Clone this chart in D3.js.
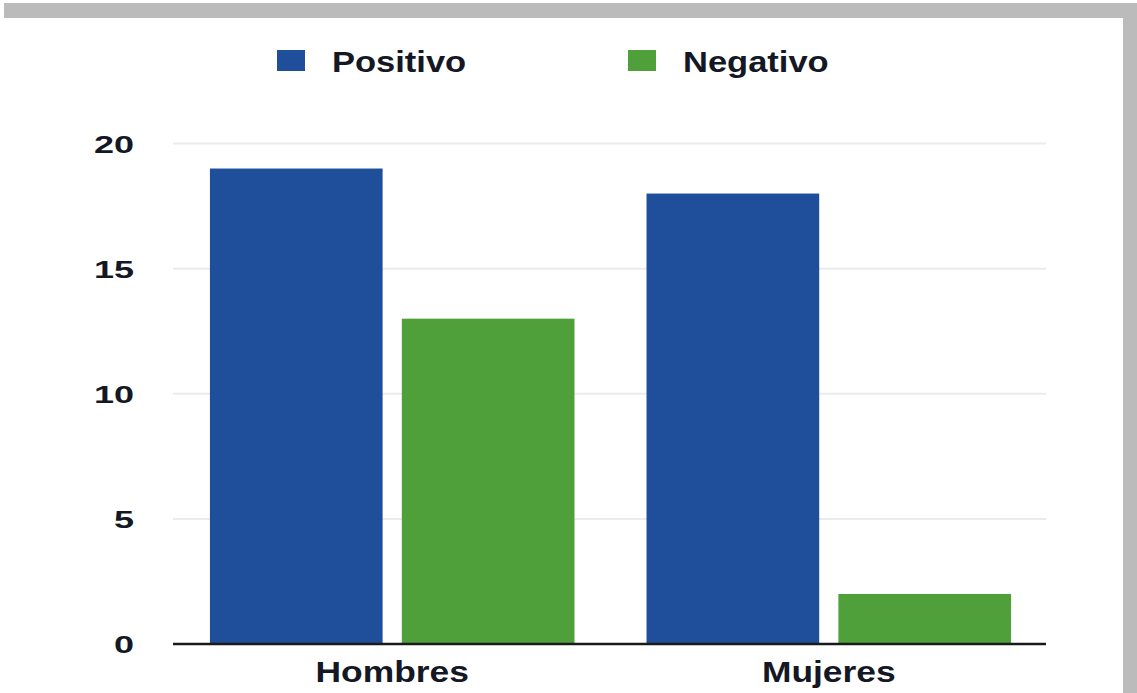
<!DOCTYPE html>
<html>
<head>
<meta charset="utf-8">
<script src="https://cdn.jsdelivr.net/npm/d3@7"></script>
<style>
  html, body { margin: 0; padding: 0; background: #fff; }
  svg { display: block; }
  text { font-family: "Liberation Sans", Arial, Helvetica, sans-serif; font-weight: bold; fill: #141824; }
</style>
</head>
<body>
<svg id="chart" width="1137" height="693"></svg>
<script>
// Chart data
const categories = ["Hombres", "Mujeres"];
const seriesNames = ["Positivo", "Negativo"];
const positivo = [19, 18];
const negativo = [13, 2];
const yTicks = [0, 5, 10, 15, 20];

const colors = { Positivo: "#1f4f9b", Negativo: "#4f9f3b" };

const rows = categories.map((c, i) => ({ category: c, Positivo: positivo[i], Negativo: negativo[i] }));

const svg = d3.select("#chart");
const W = 1137, H = 693;

// Grey frame along top and right edges
svg.append("rect").attr("x", 4).attr("y", 3).attr("width", W - 4).attr("height", 15).attr("fill", "#bbbbbb");
svg.append("rect").attr("x", 1123).attr("y", 3).attr("width", 14).attr("height", H - 3).attr("fill", "#bbbbbb");

const plot = { left: 173, right: 1046, top: 143.5, bottom: 644 };

const y = d3.scaleLinear().domain([0, 20]).range([plot.bottom, plot.top]);
const x0 = d3.scaleBand().domain(categories).range([175, 1046]).paddingInner(0.165).paddingOuter(0.08);
const x1 = d3.scaleBand().domain(seriesNames).range([0, x0.bandwidth()]).paddingInner(0.1);

// Horizontal gridlines
svg.append("g").selectAll("line").data(yTicks.filter(t => t > 0)).join("line")
  .attr("x1", plot.left).attr("x2", plot.right)
  .attr("y1", d => y(d)).attr("y2", d => y(d))
  .attr("stroke", "#ebebeb").attr("stroke-width", 2);

// Y tick labels, right aligned
svg.append("g").selectAll("text").data(yTicks).join("text")
  .attr("x", 134).attr("y", d => y(d) + 9)
  .attr("text-anchor", "end")
  .style("font-size", "24px")
  .text(d => d)
  .each(function () {
    const w = this.getComputedTextLength();
    d3.select(this).attr("textLength", w * 1.5).attr("lengthAdjust", "spacingAndGlyphs");
  });

// Bars
const groups = svg.append("g").selectAll("g").data(rows).join("g")
  .attr("transform", d => `translate(${x0(d.category)},0)`);
groups.selectAll("rect").data(d => seriesNames.map(s => ({ key: s, value: d[s] }))).join("rect")
  .attr("x", d => x1(d.key))
  .attr("width", x1.bandwidth())
  .attr("y", d => y(d.value))
  .attr("height", d => y(0) - y(d.value))
  .attr("fill", d => colors[d.key]);

// Baseline
svg.append("line")
  .attr("x1", plot.left).attr("x2", plot.right)
  .attr("y1", y(0)).attr("y2", y(0))
  .attr("stroke", "#1a1a1a").attr("stroke-width", 2.5);

// Category labels
svg.append("g").selectAll("text").data(categories).join("text")
  .attr("x", d => x0(d) + x0.bandwidth() / 2)
  .attr("y", 682)
  .attr("text-anchor", "middle")
  .style("font-size", "30px")
  .text(d => d)
  .each(function () {
    const w = this.getComputedTextLength();
    d3.select(this).attr("textLength", w * 1.18).attr("lengthAdjust", "spacingAndGlyphs");
  });

// Legend
const legendPos = [{ sx: 277, tx: 332 }, { sx: 628, tx: 683 }];
const legend = svg.append("g").selectAll("g").data(seriesNames).join("g");
legend.append("rect")
  .attr("x", (d, i) => legendPos[i].sx).attr("y", 50)
  .attr("width", 28).attr("height", 21)
  .attr("fill", d => colors[d]);
legend.append("text")
  .attr("x", (d, i) => legendPos[i].tx).attr("y", 72)
  .style("font-size", "30px")
  .text(d => d)
  .each(function () {
    const w = this.getComputedTextLength();
    d3.select(this).attr("textLength", w * 1.15).attr("lengthAdjust", "spacingAndGlyphs");
  });
</script>
</body>
</html>
